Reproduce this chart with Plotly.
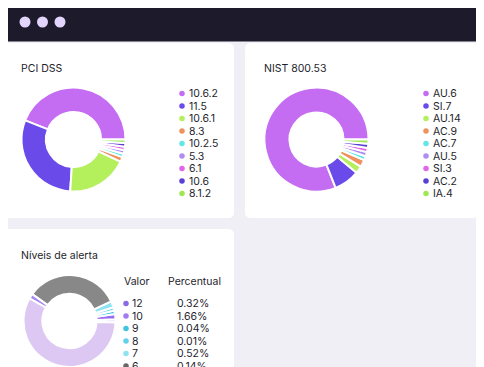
import plotly.graph_objects as go

# page is drawn 8px in from the window's corner, so the figure covers window pixels 8..484 x 8..367
OFF = 8
W, H = 484 - OFF, 367 - OFF

# ---------------- data ----------------
pci_labels = ["10.6.2", "11.5", "10.6.1", "8.3", "10.2.5", "5.3", "6.1", "10.6", "8.1.2"]
pci_values = [44, 30, 19, 1.5, 1.1, 1.1, 1.1, 1.1, 1.1]

nist_labels = ["AU.6", "SI.7", "AU.14", "AC.9", "AC.7", "AU.5", "SI.3", "AC.2", "IA.4"]
nist_values = [81, 8, 2.3, 2.2, 1.3, 1.3, 1.3, 1.3, 1.3]

palette = ["#c46cf2", "#6a4ae8", "#b4f05c", "#f0925e", "#62e6e6",
           "#b08cf2", "#e068e8", "#5a3ed8", "#9ee852"]

alert_levels = ["12", "10", "9", "8", "7", "6", "5", "4"]
alert_values = [1.2, 1.8, 1.2, 1.2, 2.2, 33, 1.8, 57.6]
alert_colors = ["#d9c6f4", "#9a6cf0", "#3fc6de", "#62d2ea", "#8fe2ef", "#888888", "#a98af0", "#dcc8f2"]
alert_dot_colors = ["#8a6ae6", "#a07cf0", "#3fc6de", "#62d2ea", "#8fe2ef", "#666666"]
alert_percent = ["0.32%", "1.66%", "0.04%", "0.01%", "0.52%", "0.14%"]

FONT = "Inter"
TXT = "#1e1e2c"
BG = "#f0eff5"

fig = go.Figure()


def dom(cx, cy, r):
    x0 = max(0.0, (cx - r - OFF) / W)
    x1 = min(1.0, (cx + r - OFF) / W)
    y0 = max(0.0, 1 - (cy + r - OFF) / H)
    y1 = min(1.0, 1 - (cy - r - OFF) / H)
    return dict(x=[x0, x1], y=[y0, y1])


def ccw_rotation(values, start_deg):
    # plotly counterclockwise pies place the first slice clockwise of `rotation`;
    # choose rotation so the first slice starts at math angle start_deg and all run counterclockwise
    first = 360.0 * values[0] / sum(values)
    return 90 - start_deg - first


def rrect(x0, y0, x1, y1, r):
    return (f"M{x0+r},{y0} L{x1-r},{y0} Q{x1},{y0} {x1},{y0+r} "
            f"L{x1},{y1-r} Q{x1},{y1} {x1-r},{y1} L{x0+r},{y1} Q{x0},{y1} {x0},{y1-r} "
            f"L{x0},{y0+r} Q{x0},{y0} {x0+r},{y0} Z")


shapes = []
# top bar
shapes.append(dict(type="rect", xref="x", yref="y", x0=0, x1=490, y0=0, y1=41.5,
                   fillcolor="#1c1a2b", line=dict(width=0), layer="below"))
for cx in [25, 42.5, 60]:
    shapes.append(dict(type="circle", xref="x", yref="y", x0=cx - 5.5, x1=cx + 5.5, y0=22 - 5.5, y1=22 + 5.5,
                       fillcolor="#e3d4fb", line=dict(width=0), layer="below"))
# cards
for (x0, y0, x1, y1) in [(2, 43, 234, 218), (245, 43, 478, 218), (2, 229, 234, 390)]:
    shapes.append(dict(type="path", xref="x", yref="y", path=rrect(x0, y0, x1, y1, 6),
                       fillcolor="white", line=dict(width=0), layer="below"))

fig.add_trace(go.Pie(labels=pci_labels, values=pci_values, sort=False, direction="counterclockwise",
                     rotation=ccw_rotation(pci_values, 0), hole=0.53, textinfo="none", showlegend=False,
                     marker=dict(colors=palette, line=dict(color="white", width=2)),
                     domain=dom(73.5, 139.5, 52)))
fig.add_trace(go.Pie(labels=nist_labels, values=nist_values, sort=False, direction="counterclockwise",
                     rotation=ccw_rotation(nist_values, 0), hole=0.52, textinfo="none", showlegend=False,
                     marker=dict(colors=palette, line=dict(color="white", width=2)),
                     domain=dom(316.5, 139.5, 52)))
fig.add_trace(go.Pie(labels=alert_levels, values=alert_values, sort=False, direction="counterclockwise",
                     rotation=ccw_rotation(alert_values, -2), hole=0.59, textinfo="none", showlegend=False,
                     marker=dict(colors=alert_colors, line=dict(color="white", width=2)),
                     domain=dom(69.5, 321, 46)))

ann = []


def text(x, y, s, size=10.5, color=TXT):
    ann.append(dict(x=x, y=y, xref="x", yref="y", text=s, showarrow=False, xanchor="left", yanchor="middle",
                    font=dict(family=FONT, size=size, color=color)))


text(19, 68, "PCI DSS", 10.5)
text(262, 68, "NIST 800.53", 10.5)
text(19, 255, "Níveis de alerta", 10.5)
text(122, 281, "Valor", 10.5)
text(166, 281, "Percentual", 10.5)

# legends
row0, step = 93.5, 12.5
dot_x, dot_y, dot_c = [], [], []
for i, lab in enumerate(pci_labels):
    y = row0 + i * step
    text(187, y, lab)
    dot_x.append(182); dot_y.append(y); dot_c.append(palette[i])
for i, lab in enumerate(nist_labels):
    y = row0 + i * step
    text(431, y, lab)
    dot_x.append(426); dot_y.append(y); dot_c.append(palette[i])
arow0 = 303.5
for i, pct in enumerate(alert_percent):
    y = arow0 + i * step
    text(130, y, alert_levels[i])
    text(175, y, pct)
    dot_x.append(126); dot_y.append(y); dot_c.append(alert_dot_colors[i])

fig.add_trace(go.Scatter(x=dot_x, y=dot_y, mode="markers", showlegend=False, hoverinfo="skip",
                         marker=dict(size=5.5, color=dot_c, line=dict(width=0))))

fig.update_layout(
    width=W, height=H, margin=dict(l=0, r=0, t=0, b=0),
    paper_bgcolor=BG, plot_bgcolor=BG,
    xaxis=dict(range=[OFF, OFF + W], visible=False, fixedrange=True, domain=[0, 1]),
    yaxis=dict(range=[OFF + H, OFF], visible=False, fixedrange=True, domain=[0, 1]),
    shapes=shapes, annotations=ann, showlegend=False,
)

fig.write_html("out.html")
